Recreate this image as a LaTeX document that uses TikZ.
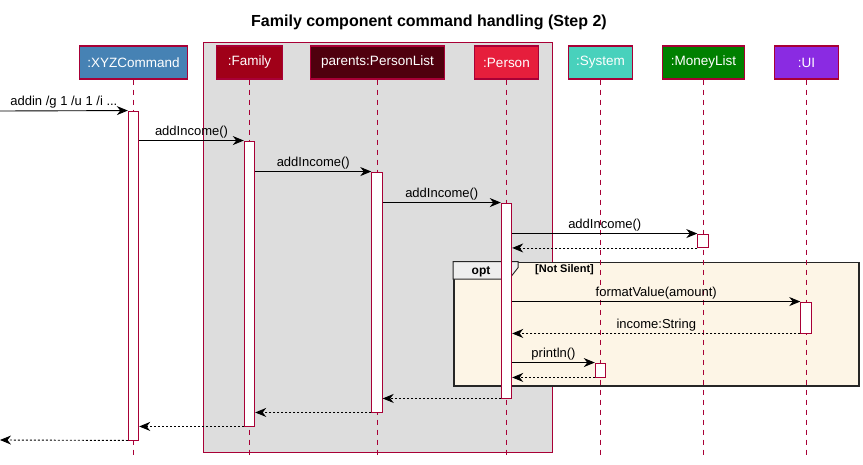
\documentclass[tikz,border=0pt]{standalone}
\usepackage{fontspec}
\setmainfont{Liberation Sans}
\usetikzlibrary{arrows.meta, calc}

\definecolor{umlborder}{HTML}{A80036}
\definecolor{xyzblue}{HTML}{4682B4}
\definecolor{familyred}{HTML}{A00018}
\definecolor{listmaroon}{HTML}{50000E}
\definecolor{personred}{HTML}{E61E3C}
\definecolor{systemteal}{HTML}{48D1BC}
\definecolor{moneygreen}{HTML}{008000}
\definecolor{uiviolet}{HTML}{8A2BE2}
\definecolor{groupgray}{HTML}{DDDDDD}
\definecolor{optfill}{HTML}{FDF5E6}
\definecolor{tabgray}{HTML}{EEEEEE}

\begin{document}
\begin{tikzpicture}[
        x=1pt, y=-1pt,
        participant/.style={rectangle, draw=umlborder, line width=1.2pt, minimum height=33pt, inner sep=0pt, text=white, font=\fontsize{13.5}{15}\selectfont},
        actbar/.style={rectangle, draw=umlborder, line width=0.9pt, fill=white, minimum width=10.5pt, inner sep=0pt},
        lifeline/.style={draw=umlborder, line width=0.9pt, dash pattern=on 5pt off 5pt},
        groupbox/.style={rectangle, draw=umlborder, line width=0.9pt, fill=groupgray, inner sep=0pt},
        optframe/.style={rectangle, draw=black!85, line width=1.8pt, fill=optfill, inner sep=0pt},
        opttab/.style={draw=black!85, line width=0.9pt, fill=tabgray, line join=miter},
        msg/.style={-{Stealth[length=11pt, width=9pt, inset=3.5pt]}, line width=0.9pt, draw=black},
        ret/.style={msg, dash pattern=on 2pt off 2pt},
        lbl/.style={font=\fontsize{13}{15}\selectfont, inner sep=0pt, anchor=base, yshift=5pt}
    ]
        \useasboundingbox (0,0) rectangle (863,464);

        \node[font=\fontsize{16}{19}\selectfont\bfseries] (title) at (429,22) {Family component command handling (Step 2)};

        \node[groupbox, minimum width=349, minimum height=410] (famBox) at (378,247) {};
        \node[optframe, minimum width=405, minimum height=123.5] (optFrame) at (656.5,324.25) {};
        \draw[opttab] (optFrame.north west) -- ++(65,0) -- ++(0,6) -- ++(-9,11.5) -- ($(optFrame.north west)+(0,17.5)$) -- cycle;
        \node[font=\fontsize{12}{14}\selectfont\bfseries] (optLbl) at (481,272) {opt};
        \node[font=\fontsize{11}{13}\selectfont\bfseries] (optCond) at (564.5,270) {[Not Silent]};

        \node[participant, fill=xyzblue, minimum width=107.5] (pXYZ) at (133.5,62.5) {:XYZCommand};
        \node[participant, fill=familyred, minimum width=66.5] (pFam) at (249.5,62.5) {:Family};
        \node[participant, fill=listmaroon, minimum width=134.5] (pPL) at (377.5,62.5) {parents:PersonList};
        \node[participant, fill=personred, minimum width=64.5] (pPer) at (506.5,62.5) {:Person};
        \node[participant, fill=systemteal, minimum width=64.5] (pSys) at (600.5,62.5) {:System};
        \node[participant, fill=moneygreen, minimum width=82.5] (pML) at (703.5,62.5) {:MoneyList};
        \node[participant, fill=uiviolet, minimum width=64.5] (pUI) at (806.5,62.5) {:UI};

        \coordinate (bot) at (0,458);
        \foreach \p in {pXYZ,pFam,pPL,pPer,pSys,pML,pUI}
            \draw[lifeline] (\p.south) -- (\p.south |- bot);

        \node[actbar, minimum height=329] (actXYZ) at (133.5,275.5) {};
        \node[actbar, minimum height=285] (actFam) at (249.5,283.5) {};
        \node[actbar, minimum height=240] (actPL) at (377,292) {};
        \node[actbar, minimum height=195] (actPer) at (506.5,300.5) {};
        \node[actbar, minimum height=13.5] (actML) at (703,240.75) {};
        \node[actbar, minimum height=31] (actUI) at (806,317.5) {};
        \node[actbar, minimum height=14] (actSys) at (600.5,370) {};

        \coordinate (inL) at (0,111);
        \coordinate (outL) at (0,440);

        \draw[msg] (inL) -- (actXYZ.north west) node[midway, lbl] {addin /g 1 /u 1 /i ...};
        \draw[msg] (actXYZ.east |- actFam.north) -- (actFam.north west) node[midway, lbl] {addIncome()};
        \draw[msg] (actFam.east |- actPL.north) -- (actPL.north west) node[midway, lbl] {addIncome()};
        \draw[msg] (actPL.east |- actPer.north) -- (actPer.north west) node[midway, lbl] {addIncome()};
        \draw[msg] (actPer.east |- actML.north) -- (actML.north west) node[midway, lbl] {addIncome()};
        \draw[ret] (actML.south west) -- (actPer.east |- actML.south);
        \draw[msg] (actPer.east |- actUI.north) -- (actUI.north west) node[midway, lbl] {formatValue(amount)};
        \draw[ret] (actUI.south west) -- (actPer.east |- actUI.south) node[midway, lbl] {income:String};
        \draw[msg] (actPer.east |- actSys.north) -- (actSys.north west) node[midway, lbl] {println()};
        \draw[ret] (actSys.south west) -- (actPer.east |- actSys.south);
        \draw[ret] (actPer.south west) -- (actPL.east |- actPer.south);
        \draw[ret] (actPL.south west) -- (actFam.east |- actPL.south);
        \draw[ret] (actFam.south west) -- (actXYZ.east |- actFam.south);
        \draw[ret] (actXYZ.south west) -- (outL);
    \end{tikzpicture}
\end{document}
